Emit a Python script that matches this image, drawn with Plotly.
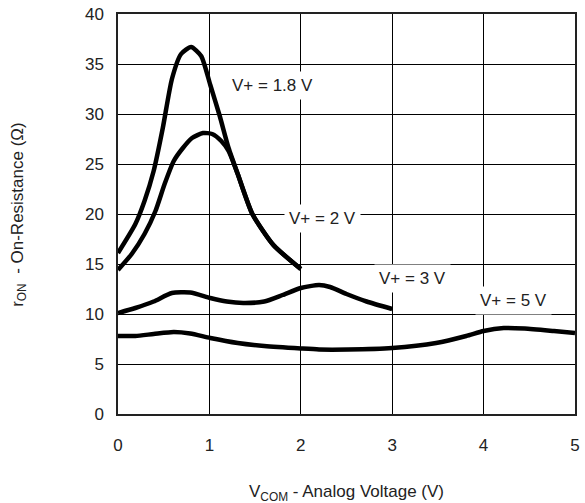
import plotly.graph_objects as go

x_18 = [0, 0.19, 0.29, 0.39, 0.49, 0.59, 0.69, 0.80, 0.91, 1.01, 1.11, 1.21, 1.31, 1.47, 1.70, 2.0]
y_18 = [16.1, 19.0, 21.3, 24.3, 28.6, 33.5, 36.0, 36.7, 35.8, 32.9, 29.9, 26.6, 24.0, 20.0, 16.9, 14.5]

x_2 = [0, 0.15, 0.29, 0.41, 0.51, 0.61, 0.71, 0.81, 0.93, 1.03, 1.13, 1.21, 1.31, 1.47, 1.70, 2.0]
y_2 = [14.4, 16.0, 18.0, 20.3, 23.0, 25.3, 26.6, 27.6, 28.1, 28.0, 27.3, 26.3, 24.0, 20.0, 16.9, 14.5]

x_3 = [0, 0.19, 0.39, 0.59, 0.79, 1.01, 1.19, 1.37, 1.60, 1.80, 2.0, 2.2, 2.32, 2.50, 2.72, 3.0]
y_3 = [10.1, 10.6, 11.25, 12.1, 12.15, 11.6, 11.25, 11.1, 11.25, 11.9, 12.6, 12.9, 12.7, 12.0, 11.25, 10.5]

x_5 = [0, 0.19, 0.39, 0.61, 0.79, 1.01, 1.31, 1.60, 2.0, 2.2, 2.52, 3.0, 3.48, 3.81, 4.0, 4.22, 4.45, 4.77, 5.0]
y_5 = [7.8, 7.8, 8.0, 8.2, 8.05, 7.6, 7.1, 6.8, 6.55, 6.45, 6.45, 6.6, 7.1, 7.8, 8.3, 8.6, 8.55, 8.3, 8.1]

labels = ["V+ = 1.8 V", "V+ = 2 V", "V+ = 3 V", "V+ = 5 V"]
label_x = [1.69, 2.24, 3.22, 4.33]
label_y = [32.9, 19.6, 13.6, 11.4]

x_ticks = [0, 1, 2, 3, 4, 5]
y_ticks = [0, 5, 10, 15, 20, 25, 30, 35, 40]

FONT = "Liberation Sans, Arial, sans-serif"
TXT = "#222222"
FS = 17

fig = go.Figure()
for xs, ys in [(x_18, y_18), (x_2, y_2), (x_3, y_3), (x_5, y_5)]:
    fig.add_trace(go.Scatter(x=xs, y=ys, mode="lines",
                             line=dict(color="black", width=4.5, shape="spline", smoothing=0.6),
                             showlegend=False, hoverinfo="skip"))

for t, lx, ly in zip(labels, label_x, label_y):
    fig.add_annotation(x=lx, y=ly, text=t, showarrow=False, xref="x", yref="y",
                       font=dict(family=FONT, size=FS, color=TXT),
                       bgcolor="white", borderpad=4)

fig.add_annotation(xref="paper", yref="paper", x=-0.217, y=0.5,
                   text="r<sub>ON</sub>  - On-Resistance (Ω)", textangle=-90,
                   showarrow=False, xanchor="center", yanchor="middle",
                   font=dict(family=FONT, size=FS, color=TXT))
fig.add_annotation(xref="paper", yref="paper", x=0.5, y=-0.198,
                   text="V<sub>COM</sub> - Analog Voltage (V)",
                   showarrow=False, xanchor="center", yanchor="middle",
                   font=dict(family=FONT, size=FS, color=TXT))

fig.update_layout(
    width=585, height=503,
    margin=dict(l=118, r=5, t=14, b=89),
    paper_bgcolor="white", plot_bgcolor="white",
    font=dict(family=FONT, size=FS, color=TXT),
    xaxis=dict(range=[0, 5], tickvals=x_ticks, showgrid=True, gridcolor="black", gridwidth=1,
               zeroline=False, showline=True, linecolor="#222", linewidth=1.5, mirror=True,
               ticks="", ticklabelstandoff=15, tickfont=dict(size=FS, color=TXT)),
    yaxis=dict(range=[0, 40], tickvals=y_ticks, showgrid=True, gridcolor="black", gridwidth=1,
               zeroline=False, showline=True, linecolor="#222", linewidth=1.5, mirror=True,
               ticks="", ticklabelstandoff=9, tickfont=dict(size=FS, color=TXT)),
)

fig.write_html("out.html")
